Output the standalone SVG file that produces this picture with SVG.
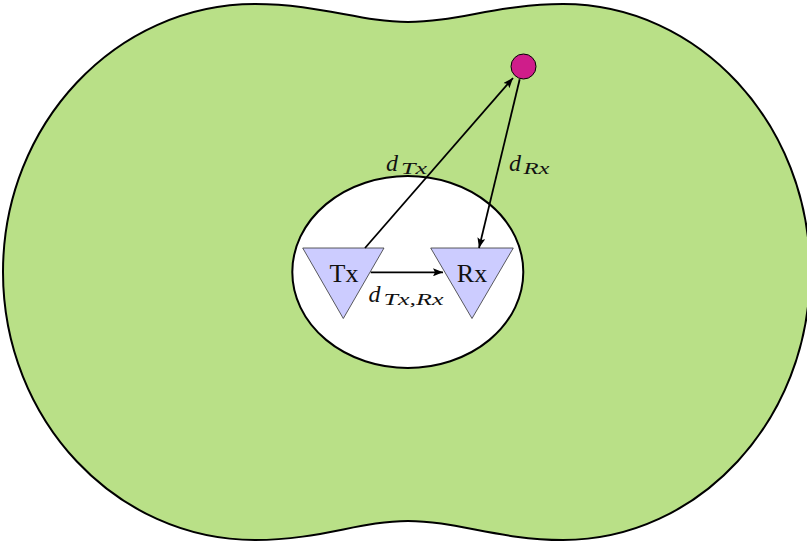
<svg xmlns="http://www.w3.org/2000/svg" width="807" height="545" viewBox="0 0 807 545">
<style>
.edge{stroke:#000;stroke-width:1.8;fill:none}
.tri{fill:#ccccff;stroke:#333;stroke-width:0.8}
.lbl{font-family:"Liberation Serif","Times New Roman",serif;fill:#111}
.m{font-style:italic}
.d{font-size:24px}
.s{font-size:17px}
</style>
<defs>
<marker id="ah" viewBox="0 0 10 8" refX="10" refY="4" markerWidth="11" markerHeight="8" markerUnits="userSpaceOnUse" orient="auto">
<path d="M0,0 L10,4 L0,8 L2,4 Z" fill="#000"/>
</marker>
</defs>
<g id="region">
<path d="M3,272 C3,124 116,4 255,4 C320,4 360,22 408,22 C456,22 500,4 563,4 C699,4 810,124 810,272 C810,420 699,540 563,540 C500,540 456,521 408,521 C360,521 320,540 255,540 C116,540 3,420 3,272 Z" fill="#b9e087" stroke="#000" stroke-width="2"/>
</g>
<g id="inner">
<ellipse cx="407.8" cy="272" rx="115.5" ry="96" fill="#fff" stroke="#000" stroke-width="2"/>
</g>
<g id="tx">
<polygon class="tri" points="302.7,248 384,248 343.3,318.5"/>
<text class="lbl" x="344" y="281.5" font-size="26" text-anchor="middle">Tx</text>
</g>
<g id="rx">
<polygon class="tri" points="430.7,248 513.3,248 472,318.5"/>
<text class="lbl" x="472" y="281.5" font-size="26" text-anchor="middle">Rx</text>
</g>
<g id="point">
<circle cx="523.5" cy="66.5" r="12.5" fill="#cf1d8a" stroke="#000" stroke-width="1"/>
</g>
<g id="connectors">
<line class="edge" x1="365" y1="248" x2="513" y2="78" marker-end="url(#ah)"/>
<line class="edge" x1="519.7" y1="79.3" x2="479" y2="248" marker-end="url(#ah)"/>
<line class="edge" x1="370.7" y1="272.3" x2="443" y2="272.3" marker-end="url(#ah)"/>
</g>
<g id="labels">
<text class="lbl m d" x="386" y="170.7">d</text>
<text class="lbl m s" x="401" y="174" textLength="26" lengthAdjust="spacingAndGlyphs">Tx</text>
<text class="lbl m d" x="509" y="170.7">d</text>
<text class="lbl m s" x="523.5" y="174" textLength="26" lengthAdjust="spacingAndGlyphs">Rx</text>
<text class="lbl m d" x="368.5" y="301.7">d</text>
<text class="lbl m s" x="383.5" y="305" textLength="60" lengthAdjust="spacingAndGlyphs">Tx,Rx</text>
</g>
</svg>
